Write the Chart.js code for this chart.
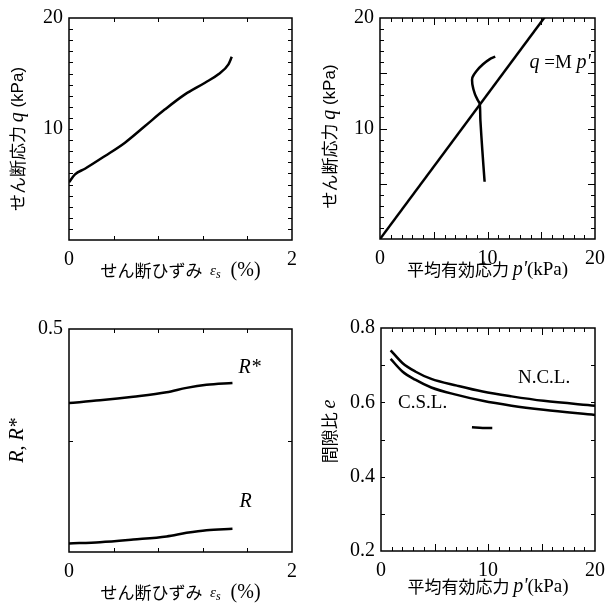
<!DOCTYPE html>
<html>
<head>
<meta charset="utf-8">
<script src="https://cdn.jsdelivr.net/npm/chart.js"></script>
<style>
  body { margin: 0; background: #fff; }
  #wrap { position: relative; width: 613px; height: 603px; }
  canvas { position: absolute; }
</style>
</head>
<body>
<div id="wrap">
  <canvas id="c1" style="left:0;top:0" width="306" height="300"></canvas>
  <canvas id="c2" style="left:306px;top:0" width="307" height="300"></canvas>
  <canvas id="c3" style="left:0;top:300px" width="306" height="303"></canvas>
  <canvas id="c4" style="left:306px;top:300px" width="307" height="303"></canvas>
</div>
<script>
// shear strain vs shear stress
const strainQ = [0, 0.054, 0.143, 0.323, 0.502, 0.682, 0.861, 1.04, 1.22, 1.34, 1.43, 1.46];
const shearQ  = [5.2, 5.92, 6.42, 7.57, 8.77, 10.27, 11.77, 13.12, 14.17, 14.93, 15.83, 16.51];

// effective stress path p'-q
const pathP = [9.73, 9.52, 9.34, 9.28, 9.13, 8.83, 8.59, 8.59, 8.98, 9.58, 10.18, 10.72];
const pathQ = [5.18, 8.02, 10.72, 12.22, 12.51, 13.11, 14.01, 14.61, 15.21, 15.81, 16.26, 16.5];
// critical state line q = M p'
const cslP = [0, 20];
const cslQ = [0, 26.2];

// R and R* against shear strain
const strainR = [0, 0.278, 0.576, 0.875, 1.054, 1.233, 1.466];
const rStar   = [0.334, 0.340, 0.348, 0.358, 0.368, 0.375, 0.379];
const rPlain  = [0.019, 0.022, 0.028, 0.035, 0.043, 0.049, 0.052];

// void ratio vs mean effective stress
const eP   = [0.9, 2.0, 3.2, 4.7, 7.1, 9.5, 12.2, 15.2, 20];
const eNCL = [0.740, 0.706, 0.683, 0.663, 0.645, 0.629, 0.616, 0.604, 0.591];
const eCSL = [0.717, 0.683, 0.661, 0.640, 0.620, 0.604, 0.591, 0.580, 0.566];
const testP = [8.5, 9.5, 10.4];
const testE = [0.533, 0.531, 0.531];

const JP = '"Noto Sans CJK JP"';
const SERIF = '"Liberation Serif"';
const SANS = '"Liberation Sans"';

const pts = (xs, ys) => xs.map((x, i) => ({ x: x, y: ys[i] }));
const curve = (xs, ys, smooth) => ({
  data: pts(xs, ys), borderColor: '#000', borderWidth: 2.5,
  pointRadius: 0, showLine: true, fill: false,
  tension: smooth ? 0.3 : 0.4,
  cubicInterpolationMode: smooth ? 'default' : 'monotone'
});

// frame with inward ticks, plus in-plot labels and axis titles
const frameTicks = {
  id: 'frameTicks',
  afterDatasetsDraw(chart, args, opts) {
    const { ctx, chartArea: a, scales } = chart;
    ctx.save();
    ctx.strokeStyle = '#000';
    ctx.lineWidth = 1.5;
    ctx.strokeRect(a.left, a.top, a.right - a.left, a.bottom - a.top);
    ctx.lineWidth = 1;
    const marks = (scale, step, major, horiz) => {
      const n = Math.round((scale.max - scale.min) / step);
      for (let i = 1; i < n; i++) {
        const v = scale.min + i * step;
        const big = major && Math.abs(v / major - Math.round(v / major)) < 1e-6;
        const len = big ? 7 : 4;
        const p = Math.round(scale.getPixelForValue(v)) + 0.5;
        ctx.beginPath();
        if (horiz) {
          ctx.moveTo(p, a.bottom); ctx.lineTo(p, a.bottom - len);
          ctx.moveTo(p, a.top); ctx.lineTo(p, a.top + len);
        } else {
          ctx.moveTo(a.left, p); ctx.lineTo(a.left + len, p);
          ctx.moveTo(a.right, p); ctx.lineTo(a.right - len, p);
        }
        ctx.stroke();
      }
    };
    marks(scales.x, opts.xStep, opts.xMajor, true);
    marks(scales.y, opts.yStep, opts.yMajor, false);

    const drawSegs = (segs, x, y, align) => {
      let w = 0;
      segs.forEach(s => { ctx.font = s.f; w += ctx.measureText(s.t).width; });
      let cx = align === 'center' ? x - w / 2 : x;
      ctx.textAlign = 'left';
      ctx.textBaseline = 'middle';
      segs.forEach(s => {
        ctx.font = s.f;
        ctx.fillText(s.t, cx, y + (s.dy || 0));
        cx += ctx.measureText(s.t).width;
      });
    };
    ctx.fillStyle = '#000';
    (opts.labels || []).forEach(l => {
      drawSegs(l.segs, scales.x.getPixelForValue(l.x), scales.y.getPixelForValue(l.y), 'left');
    });
    if (opts.xTitle) {
      drawSegs(opts.xTitle, (a.left + a.right) / 2 + (opts.xTitleDx || 0), a.bottom + opts.xTitleGap, 'center');
    }
    if (opts.yTitle) {
      ctx.save();
      ctx.translate(opts.yTitleX, (a.top + a.bottom) / 2 + (opts.yTitleDy || 0));
      ctx.rotate(-Math.PI / 2);
      drawSegs(opts.yTitle, 0, 0, 'center');
      ctx.restore();
    }
    ctx.restore();
  }
};

function makeChart(id, datasets, cfg) {
  return new Chart(document.getElementById(id), {
    type: 'scatter',
    data: { datasets: datasets },
    options: {
      responsive: false,
      animation: false,
      layout: { padding: { top: cfg.padTop, right: cfg.padRight, left: 0, bottom: 0 } },
      plugins: { legend: { display: false }, tooltip: { enabled: false }, frameTicks: cfg.frame },
      scales: {
        x: {
          type: 'linear', min: cfg.xMin, max: cfg.xMax,
          grid: { display: false, drawTicks: false }, border: { display: false },
          ticks: {
            stepSize: cfg.xLabelStep, padding: 8, color: '#000', maxRotation: 0,
            font: { family: SERIF, size: 20 },
            callback: v => cfg.xLabel(v)
          },
          afterFit: s => { s.height = cfg.xHeight; }
        },
        y: {
          type: 'linear', min: cfg.yMin, max: cfg.yMax,
          grid: { display: false, drawTicks: false }, border: { display: false },
          ticks: {
            stepSize: cfg.yLabelStep, padding: 6, color: '#000',
            font: { family: SERIF, size: 20 },
            callback: v => cfg.yLabel(v)
          },
          afterFit: s => { s.width = cfg.yWidth; }
        }
      }
    },
    plugins: [frameTicks]
  });
}

const near = (v, t) => Math.abs(v - t) < 1e-6;

const strainTitle = [
  { t: 'せん断ひずみ  ', f: '17px ' + JP },
  { t: 'ε', f: 'italic 15px ' + SERIF },
  { t: 's', f: 'italic 12px ' + SERIF, dy: 4 },
  { t: '  (%)', f: '20px ' + SERIF }
];
const stressTitle = [
  { t: 'せん断応力 ', f: '17px ' + JP },
  { t: 'q', f: 'italic 20px ' + SERIF },
  { t: ' (kPa)', f: '17px ' + SANS }
];
const meanTitle = [
  { t: '平均有効応力 ', f: '17px ' + JP },
  { t: "p'", f: 'italic 20px ' + SERIF },
  { t: '(kPa)', f: '19px ' + SERIF }
];

makeChart('c1', [curve(strainQ, shearQ)], {
  padTop: 17, padRight: 14, xHeight: 60, yWidth: 69,
  xMin: 0, xMax: 2, yMin: 0, yMax: 20, xLabelStep: 2, yLabelStep: 10,
  xLabel: v => String(v), yLabel: v => (v === 0 ? '' : String(v)),
  frame: {
    xStep: 0.4, yStep: 1, xTitleGap: 31, yTitleX: 18, yTitleDy: 10,
    xTitle: strainTitle, yTitle: stressTitle
  }
});

makeChart('c2', [curve(cslP, cslQ), curve(pathP, pathQ, true)], {
  padTop: 17, padRight: 10, xHeight: 61, yWidth: 74,
  xMin: 0, xMax: 20, yMin: 0, yMax: 20, xLabelStep: 10, yLabelStep: 10,
  xLabel: v => String(v), yLabel: v => (v === 0 ? '' : String(v)),
  frame: {
    xStep: 1, xMajor: 5, yStep: 1, yMajor: 5, xTitleGap: 31, yTitleX: 24, yTitleDy: 8,
    labels: [{ x: 13.9, y: 15.95, segs: [
      { t: 'q', f: 'italic 20px ' + SERIF },
      { t: ' =M ', f: '19px ' + SERIF },
      { t: "p'", f: 'italic 20px ' + SERIF }
    ] }],
    xTitle: meanTitle, yTitle: stressTitle
  }
});

makeChart('c3', [curve(strainR, rStar), curve(strainR, rPlain)], {
  padTop: 29, padRight: 14, xHeight: 51, yWidth: 69,
  xMin: 0, xMax: 2, yMin: 0, yMax: 0.5, xLabelStep: 2, yLabelStep: 0.5,
  xLabel: v => String(v), yLabel: v => (near(v, 0.5) ? '0.5' : ''),
  frame: {
    xStep: 0.4, yStep: 0.25, xTitleGap: 41, yTitleX: 18, yTitleDy: 0,
    labels: [
      { x: 1.52, y: 0.4126, segs: [{ t: 'R*', f: 'italic 20px ' + SERIF }] },
      { x: 1.53, y: 0.112, segs: [{ t: 'R', f: 'italic 20px ' + SERIF }] }
    ],
    xTitle: strainTitle,
    yTitle: [{ t: 'R, R*', f: 'italic 20px ' + SERIF }]
  }
});

makeChart('c4', [curve(eP, eNCL), curve(eP, eCSL), curve(testP, testE)], {
  padTop: 28, padRight: 10, xHeight: 52, yWidth: 75,
  xMin: 0, xMax: 20, yMin: 0.2, yMax: 0.8, xLabelStep: 10, yLabelStep: 0.2,
  xLabel: v => String(v), yLabel: v => v.toFixed(1),
  frame: {
    xStep: 1, xMajor: 5, yStep: 0.1, xTitleGap: 36, yTitleX: 24, yTitleDy: -8,
    labels: [
      { x: 12.8, y: 0.665, segs: [{ t: 'N.C.L.', f: '19px ' + SERIF }] },
      { x: 1.6, y: 0.598, segs: [{ t: 'C.S.L.', f: '19px ' + SERIF }] }
    ],
    xTitle: meanTitle,
    yTitle: [
      { t: '間隙比 ', f: '17px ' + JP },
      { t: 'e', f: 'italic 20px ' + SERIF }
    ]
  }
});
</script>
</body>
</html>
